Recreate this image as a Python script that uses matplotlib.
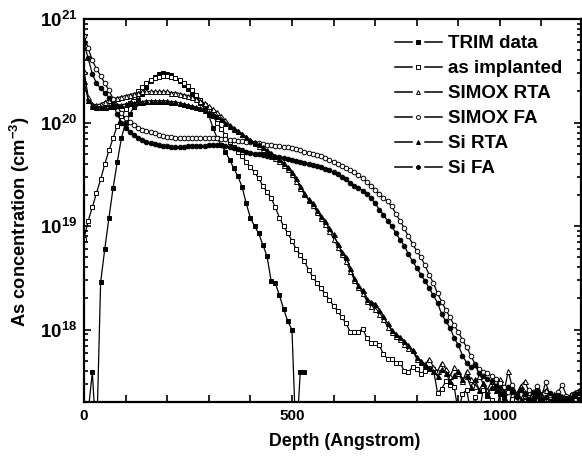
import numpy as np
import matplotlib
matplotlib.use("Agg")
import matplotlib.pyplot as plt
from matplotlib.ticker import FixedLocator, LogLocator, NullFormatter, FuncFormatter
from matplotlib.legend_handler import HandlerBase
from matplotlib.lines import Line2D

plt.rcParams['font.family'] = ['Liberation Sans', 'DejaVu Sans']
plt.rcParams['font.weight'] = 'bold'
plt.rcParams['mathtext.fontset'] = 'custom'
plt.rcParams['mathtext.rm'] = 'Liberation Sans:bold'
plt.rcParams['mathtext.bf'] = 'Liberation Sans:bold'
plt.rcParams['mathtext.it'] = 'Liberation Sans:bold'

# depth grid (Angstrom), 10 A steps
depth = np.arange(0, 1200, 10)
trim_depth = np.arange(0, 540, 10)

# log10 of As concentration (cm^-3); values below 17.3 lie under the axis (zero counts)
trim_log = [17.1, 17.2, 17.59, 16.9, 18.46, 18.78, 19.08, 19.37, 19.62, 19.85,
            20.0, 20.08, 20.15, 20.22, 20.28, 20.34, 20.4, 20.44, 20.47, 20.48,
            20.47, 20.46, 20.43, 20.4, 20.36, 20.32, 20.28, 20.24, 20.19, 20.13,
            20.07, 19.95, 19.85, 19.78, 19.72, 19.64, 19.56, 19.48, 19.38, 19.22,
            19.08, 19.0, 18.93, 18.82, 18.71, 18.47, 18.45, 18.33, 18.2, 18.08,
            18.0, 16.9, 17.59, 17.59]

implanted_log = [18.88, 19.05, 19.18, 19.32, 19.45, 19.6, 19.73, 19.85, 19.97, 20.06,
                 20.13, 20.19, 20.25, 20.3, 20.34, 20.38, 20.41, 20.43, 20.44, 20.45,
                 20.45, 20.44, 20.43, 20.41, 20.38, 20.35, 20.31, 20.27, 20.22, 20.17,
                 20.12, 20.06, 20.0, 19.94, 19.88, 19.81, 19.76, 19.72, 19.68, 19.62,
                 19.57, 19.52, 19.46, 19.39, 19.33, 19.27, 19.18, 19.08, 19.0, 18.93,
                 18.86, 18.78, 18.72, 18.66, 18.58, 18.51, 18.45, 18.4, 18.34, 18.29,
                 18.23, 18.18, 18.12, 18.06, 17.98, 17.98, 17.98, 18.01, 17.92, 17.87,
                 17.87, 17.85, 17.76, 17.72, 17.72, 17.68, 17.68, 17.6, 17.59, 17.64,
                 17.62, 17.57, 17.6, 17.63, 17.62, 17.39, 17.43, 17.5, 17.47, 17.45,
                 17.2, 17.38, 17.42, 17.2, 17.35, 17.2, 17.42, 17.36, 17.32, 17.2,
                 17.38, 17.35, 17.2, 17.33, 17.38, 17.2, 17.35, 17.32, 17.2, 17.36,
                 17.33, 17.2, 17.34, 17.31, 17.36, 17.2, 17.33, 17.35, 17.32, 17.2]

simox_rta_log = [20.5, 20.25, 20.18, 20.17, 20.18, 20.2, 20.22, 20.23, 20.24, 20.25,
                 20.26, 20.27, 20.28, 20.29, 20.3, 20.3, 20.3, 20.3, 20.3, 20.3,
                 20.3, 20.29, 20.29, 20.28, 20.27, 20.26, 20.25, 20.23, 20.21, 20.19,
                 20.16, 20.13, 20.1, 20.06, 20.02, 19.98, 19.95, 19.92, 19.89, 19.86,
                 19.83, 19.8, 19.77, 19.74, 19.71, 19.68, 19.66, 19.63, 19.59, 19.55,
                 19.5, 19.44, 19.37, 19.31, 19.25, 19.2, 19.14, 19.08, 19.02, 18.95,
                 18.88, 18.8, 18.73, 18.66, 18.57, 18.48, 18.41, 18.35, 18.28, 18.23,
                 18.2, 18.15, 18.1, 18.03, 17.98, 17.94, 17.91, 17.86, 17.82, 17.8,
                 17.72, 17.69, 17.66, 17.72, 17.64, 17.6, 17.68, 17.62, 17.55, 17.64,
                 17.58, 17.5, 17.6, 17.52, 17.46, 17.55, 17.48, 17.42, 17.5, 17.45,
                 17.52, 17.4, 17.6, 17.44, 17.38, 17.46, 17.5, 17.4, 17.35, 17.45,
                 17.38, 17.42, 17.36, 17.33, 17.4, 17.35, 17.3, 17.38, 17.4, 17.42]

simox_fa_log = [20.84, 20.72, 20.6, 20.52, 20.45, 20.38, 20.31, 20.23, 20.16, 20.09,
                20.04, 20.01, 19.98, 19.95, 19.93, 19.92, 19.91, 19.9, 19.88, 19.87,
                19.86, 19.86, 19.85, 19.85, 19.85, 19.85, 19.85, 19.85, 19.85, 19.85,
                19.85, 19.85, 19.85, 19.84, 19.84, 19.83, 19.83, 19.82, 19.82, 19.81,
                19.81, 19.8, 19.8, 19.79, 19.78, 19.78, 19.77, 19.77, 19.76, 19.76,
                19.75, 19.74, 19.73, 19.72, 19.71, 19.7, 19.69, 19.68, 19.66, 19.64,
                19.62, 19.6, 19.58, 19.56, 19.54, 19.52, 19.49, 19.46, 19.43, 19.39,
                19.35, 19.31, 19.27, 19.24, 19.19, 19.12, 19.05, 18.98, 18.9, 18.83,
                18.76, 18.7, 18.62, 18.53, 18.45, 18.35, 18.27, 18.19, 18.12, 18.04,
                17.98, 17.9, 17.83, 17.75, 17.67, 17.62, 17.59, 17.58, 17.55, 17.52,
                17.48, 17.45, 17.4, 17.47, 17.38, 17.43, 17.36, 17.42, 17.38, 17.46,
                17.35, 17.49, 17.37, 17.34, 17.4, 17.47, 17.36, 17.33, 17.38, 17.35]

si_rta_log = [20.4, 20.22, 20.16, 20.15, 20.15, 20.15, 20.16, 20.16, 20.17, 20.17,
              20.18, 20.19, 20.19, 20.2, 20.2, 20.21, 20.21, 20.21, 20.21, 20.21,
              20.21, 20.2, 20.2, 20.19, 20.18, 20.17, 20.16, 20.15, 20.14, 20.12,
              20.1, 20.08, 20.06, 20.03, 20.0, 19.97, 19.94, 19.92, 19.89, 19.86,
              19.83, 19.81, 19.79, 19.76, 19.73, 19.71, 19.68, 19.65, 19.61, 19.57,
              19.52, 19.46, 19.39, 19.32, 19.26, 19.22, 19.16, 19.1, 19.05, 18.98,
              18.92, 18.83, 18.75, 18.7, 18.6, 18.5, 18.43, 18.38, 18.3, 18.27,
              18.25, 18.19, 18.13, 18.06, 18.0, 17.96, 17.93, 17.89, 17.85, 17.8,
              17.74, 17.7, 17.67, 17.63, 17.6, 17.55, 17.62, 17.58, 17.5, 17.56,
              17.6, 17.52, 17.55, 17.45, 17.52, 17.42, 17.48, 17.38, 17.45, 17.42,
              17.4, 17.35, 17.2, 17.43, 17.38, 17.33, 17.4, 17.2, 17.36, 17.42,
              17.35, 17.3, 17.2, 17.38, 17.33, 17.36, 17.2, 17.35, 17.37, 17.4]

si_fa_log = [20.77, 20.62, 20.47, 20.38, 20.33, 20.29, 20.24, 20.17, 20.08, 20.0,
             19.95, 19.91, 19.88, 19.85, 19.83, 19.81, 19.8, 19.79, 19.78, 19.77,
             19.77, 19.76, 19.76, 19.76, 19.76, 19.77, 19.77, 19.77, 19.77, 19.77,
             19.78, 19.78, 19.78, 19.78, 19.77, 19.76, 19.75, 19.74, 19.73, 19.72,
             19.71, 19.7, 19.7, 19.69, 19.68, 19.68, 19.67, 19.67, 19.66, 19.65,
             19.64, 19.63, 19.62, 19.61, 19.6, 19.59, 19.58, 19.57, 19.55, 19.54,
             19.52, 19.5, 19.47, 19.45, 19.42, 19.39, 19.37, 19.34, 19.31, 19.27,
             19.22, 19.16, 19.11, 19.05, 19.0, 18.93, 18.87, 18.81, 18.73, 18.66,
             18.6, 18.53, 18.47, 18.4, 18.33, 18.26, 18.15, 18.08, 18.02, 17.92,
             17.85, 17.75, 17.68, 17.64, 17.66, 17.58, 17.55, 17.52, 17.5, 17.46,
             17.44, 17.38, 17.45, 17.4, 17.35, 17.42, 17.38, 17.33, 17.4, 17.36,
             17.2, 17.35, 17.39, 17.33, 17.37, 17.2, 17.34, 17.31, 17.38, 17.33]

labels = ["TRIM data", "as implanted", "SIMOX RTA", "SIMOX FA", "Si RTA", "Si FA"]


class GapHandler(HandlerBase):
    """Legend key drawn as  --- marker ---  with gaps round the marker."""
    def create_artists(self, legend, orig, xdescent, ydescent, width, height,
                       fontsize, trans):
        y = height / 2.0 - ydescent
        x0 = -xdescent
        gap = 0.14 * width
        lw = 1.1
        l1 = Line2D([x0, x0 + width / 2 - gap], [y, y], color='black', lw=lw)
        l2 = Line2D([x0 + width / 2 + gap, x0 + width], [y, y], color='black', lw=lw)
        m = Line2D([x0 + width / 2], [y], ls='none', marker=orig.get_marker(),
                   ms=2.8, mfc=orig.get_markerfacecolor(), mec='black', mew=0.7)
        for a in (l1, l2, m):
            a.set_transform(trans)
        return [l1, l2, m]


fig = plt.figure(figsize=(5.82, 4.59), dpi=100)
ax = fig.add_axes([84/582, 57/459, 497/582, 383/459])

series = [
    (trim_depth, trim_log, 's', 'black'),
    (depth, implanted_log, 's', 'white'),
    (depth, simox_rta_log, '^', 'white'),
    (depth, simox_fa_log, 'o', 'white'),
    (depth, si_rta_log, '^', 'black'),
    (depth, si_fa_log, 'o', 'black'),
]
handles = []
for (x, ylog, m, fc), lab in zip(series, labels):
    y = 10.0 ** np.asarray(ylog)
    ms = 3.6 if m == '^' else 3.3
    h, = ax.plot(x, y, color='black', lw=0.9, marker=m, ms=ms,
                 mfc=fc, mec='black', mew=0.7, label=lab)
    handles.append(h)

ax.set_yscale('log')
ax.set_xlim(0, 1195)
ax.set_ylim(2.0e17, 1e21)

ax.xaxis.set_major_locator(FixedLocator([0, 500, 1000]))
ax.xaxis.set_minor_locator(FixedLocator(list(range(100, 1200, 100))))
ax.yaxis.set_major_locator(LogLocator(base=10, numticks=10))
ax.yaxis.set_minor_locator(LogLocator(base=10, subs=np.arange(2, 10), numticks=20))
ax.yaxis.set_minor_formatter(NullFormatter())
ax.yaxis.set_major_formatter(FuncFormatter(lambda v, p: r'$\mathbf{10^{%d}}$' % round(np.log10(v))))

ax.tick_params(which='both', direction='in', top=True, right=True, width=1.2)
ax.tick_params(which='major', length=5)
ax.tick_params(axis='x', which='minor', length=5)
ax.tick_params(axis='y', which='minor', length=3)
ax.tick_params(axis='x', labelsize=11, pad=5)
ax.tick_params(axis='y', labelsize=13.5, pad=5)
for lab in ax.get_xticklabels():
    lab.set_fontweight('bold')
for s in ax.spines.values():
    s.set_linewidth(1.6)

ax.set_xlabel('Depth (Angstrom)', fontsize=12.8, fontweight='bold')
ax.xaxis.set_label_coords((345 - 84) / 497, -(442 - 402) / 383, transform=ax.transAxes)
ax.xaxis.label.set_va('center')
ax.set_ylabel(r'As concentration (cm$^{\mathbf{-3}}$)', fontsize=13.2, fontweight='bold')
ax.yaxis.set_label_coords(-(84 - 20) / 497, (459 - 222 - 57) / 383, transform=ax.transAxes)
ax.yaxis.label.set_va('center')

leg = ax.legend(handles=handles, loc='upper left', bbox_to_anchor=(395/582, 1 - 35/459),
                bbox_transform=fig.transFigure, frameon=False, fontsize=13.5,
                handlelength=2.5, handletextpad=0.32, labelspacing=0.42,
                borderpad=0, borderaxespad=0,
                handler_map={Line2D: GapHandler()})
for t in leg.get_texts():
    t.set_fontweight('bold')

fig.savefig('out.png', dpi=100)
